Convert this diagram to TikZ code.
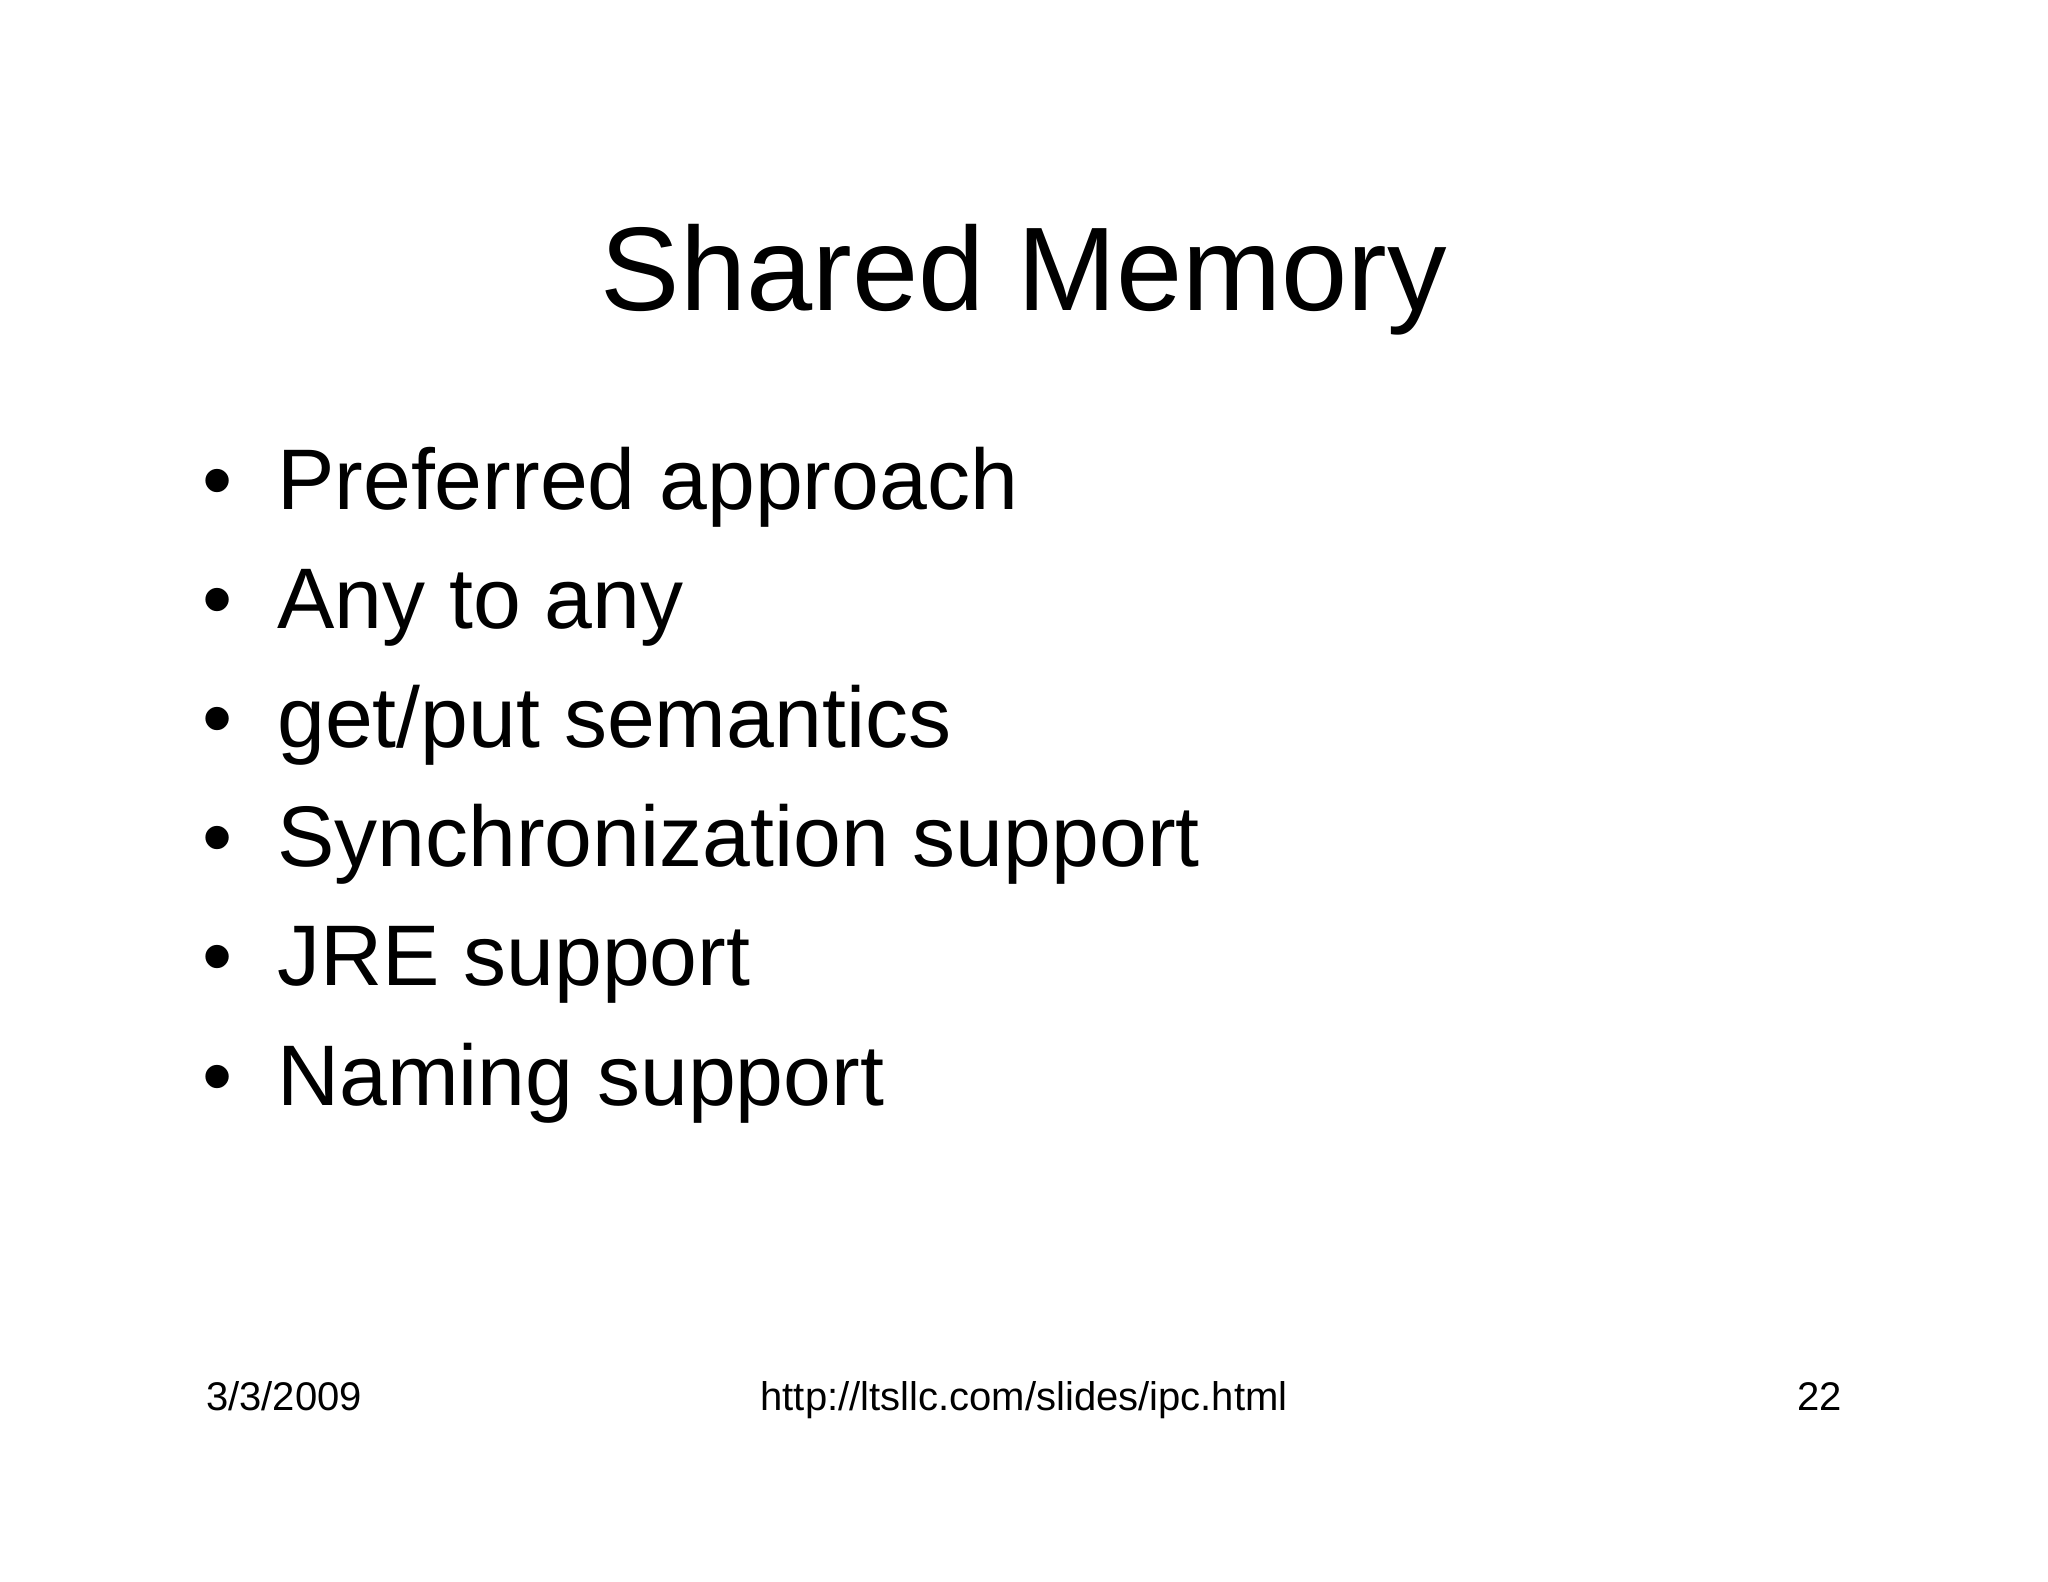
\documentclass[tikz,border=0pt]{standalone}
\usepackage{fontspec}
\setmainfont{Liberation Sans}
\tikzset{bul/.style={anchor=base west,inner sep=0pt,font=\fontsize{86}{100}\selectfont},
foot/.style={inner sep=0pt,font=\fontsize{40}{48}\selectfont}}
\begin{document}
\begin{tikzpicture}[x=1pt,y=-1pt]
\useasboundingbox[fill=white] (0,0) rectangle (2048,1582);
\node[anchor=base,inner sep=0pt,font=\fontsize{119}{130}\selectfont] (title) at (1024,310) {Shared Memory};
\foreach \t [count=\i] in {Preferred approach,Any to any,get/put semantics,Synchronization support,JRE support,Naming support}{
  \node[bul] (b\i) at (277,{509+(\i-1)*119.2}) {\t};
  \node[anchor=base,inner sep=0pt,font=\fontsize{86}{100}\selectfont] (d\i) at (218,{509+(\i-1)*119.2}) {•};
}
\node[foot,anchor=base west] (date) at (206,1410) {3/3/2009};
\node[foot,anchor=base] (url) at (1024,1410) {http://ltsllc.com/slides/ipc.html};
\node[foot,anchor=base east] (num) at (1842,1410) {22};
\end{tikzpicture}
\end{document}
